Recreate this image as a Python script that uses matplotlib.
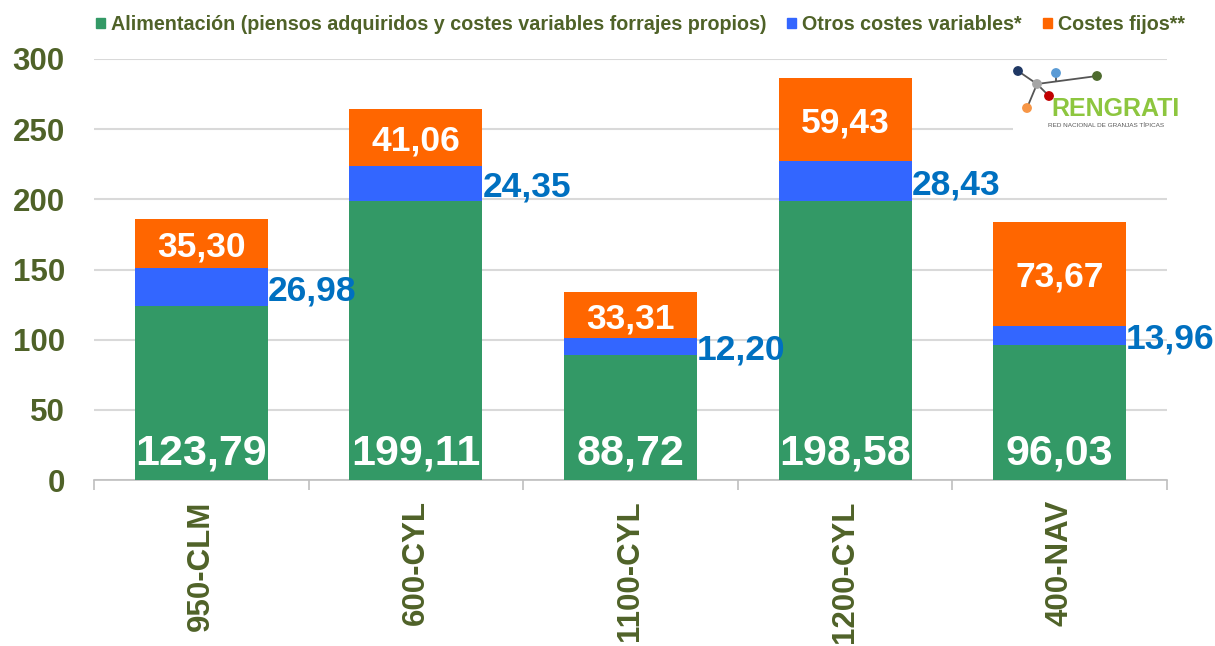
import matplotlib
matplotlib.use("Agg")
import matplotlib.pyplot as plt
from matplotlib.patches import Patch, Circle
import numpy as np

categories = ["950-CLM", "600-CYL", "1100-CYL", "1200-CYL", "400-NAV"]
alimentacion = [123.79, 199.11, 88.72, 198.58, 96.03]
otros_variables = [26.98, 24.35, 12.20, 28.43, 13.96]
costes_fijos = [35.30, 41.06, 33.31, 59.43, 73.67]
series_names = ["Alimentación (piensos adquiridos y costes variables forrajes propios)",
                "Otros costes variables*", "Costes fijos**"]
yticks = [0, 50, 100, 150, 200, 250, 300]

C_GREEN = "#339966"
C_BLUE = "#3366FF"
C_ORANGE = "#FF6600"
C_TEXT = "#4F6228"
C_LABEL_BLUE = "#0070C0"
C_GRID = "#D9D9D9"

plt.rcParams['font.family'] = ['Liberation Sans', 'DejaVu Sans']

fig = plt.figure(figsize=(12.15, 6.46), dpi=100)
W, H = 1215, 646
ax = fig.add_axes([94 / W, 1 - 480 / H, (1167 - 94) / W, (480 - 59) / H])

x = np.arange(len(categories))
width = 0.62
a = np.array(alimentacion)
o = np.array(otros_variables)
f = np.array(costes_fijos)

ax.bar(x, a, width, color=C_GREEN, zorder=3)
ax.bar(x, o, width, bottom=a, color=C_BLUE, zorder=3)
ax.bar(x, f, width, bottom=a + o, color=C_ORANGE, zorder=3)

def fmt(v):
    return f"{v:.2f}".replace(".", ",")

for i in range(len(categories)):
    ax.annotate(fmt(a[i]), (x[i], 0), xytext=(0, 11.5), textcoords="offset points",
                ha="center", va="baseline", color="white", fontsize=31,
                fontweight="bold", zorder=5)
    ax.text(x[i], a[i] + o[i] + f[i] / 2, fmt(f[i]), ha="center", va="center_baseline",
            color="white", fontsize=25.5, fontweight="bold", zorder=5)
    ax.text(x[i] + width / 2, a[i] + o[i] / 2, fmt(o[i]), ha="left", va="center_baseline",
            color=C_LABEL_BLUE, fontsize=25.5, fontweight="bold", zorder=5)

ax.set_xlim(-0.5, len(categories) - 0.5)
ax.set_ylim(0, 300)
ax.set_yticks(yticks)
ax.set_yticklabels([str(t) for t in yticks])
ax.yaxis.grid(True, color=C_GRID, linewidth=1.5, zorder=0)
ax.set_axisbelow(True)

for s in ["top", "right", "left"]:
    ax.spines[s].set_visible(False)
ax.spines["bottom"].set_color("#BFBFBF")
ax.spines["bottom"].set_linewidth(1.2)

ax.tick_params(axis="y", length=0, pad=21, labelsize=22.5, labelcolor=C_TEXT)
for lab in ax.get_yticklabels():
    lab.set_fontweight("bold")

ax.set_xticks(x)
ax.set_xticklabels(categories, rotation=90, fontsize=22.5, fontweight="bold", color=C_TEXT)
ax.tick_params(axis="x", which="major", length=0, pad=14.5)
ax.set_xticks(np.arange(-0.5, len(categories)), minor=True)
ax.tick_params(axis="x", which="minor", length=7.5, width=1.2, color="#BFBFBF", direction="out")

handles = [Patch(color=C_GREEN), Patch(color=C_BLUE), Patch(color=C_ORANGE)]
leg = fig.legend(handles, series_names, loc="upper left", bbox_to_anchor=(96 / W, 1 - 15 / H),
                 ncol=3, frameon=False, fontsize=14.2, borderpad=0, borderaxespad=0,
                 handlelength=0.46, handleheight=0.46, handletextpad=0.3, columnspacing=1.05)
for t in leg.get_texts():
    t.set_color(C_TEXT)
    t.set_fontweight("bold")

# Logo (decoration)
lx0, lx1, ly0, ly1 = 1013, 1182, 62, 136
lax = fig.add_axes([lx0 / W, 1 - ly1 / H, (lx1 - lx0) / W, (ly1 - ly0) / H])
lax.set_xlim(lx0, lx1)
lax.set_ylim(ly1, ly0)
lax.set_facecolor("white")
for s in lax.spines.values():
    s.set_visible(False)
lax.set_xticks([])
lax.set_yticks([])
lc = "#555555"
lax.plot([1018, 1037], [71, 84], color=lc, lw=1.3)
lax.plot([1037, 1027], [84, 108], color=lc, lw=1.3)
lax.plot([1037, 1049], [84, 96], color=lc, lw=1.3)
lax.plot([1037, 1097], [84, 76], color=lc, lw=1.3)
lax.plot([1056, 1056], [73, 81], color=lc, lw=1.3)
for (cx, cy, col) in [(1018, 71, "#1F3864"), (1056, 73, "#5B9BD5"), (1037, 84, "#A6A6A6"),
                      (1097, 76, "#4E6B2E"), (1049, 96, "#C00000"), (1027, 108, "#F79646")]:
    lax.add_patch(Circle((cx, cy), 4.2, color=col, zorder=3))
lax.text(1051, 116, "RENGRATI", fontsize=18, fontweight="bold", color="#8DC63F",
         ha="left", va="baseline", family=["Liberation Sans Narrow", "Liberation Sans"])
lax.text(1048, 127, "RED NACIONAL DE GRANJAS TÍPICAS", fontsize=4.6, color="#595959",
         ha="left", va="baseline")

fig.savefig("out.png", dpi=100)
